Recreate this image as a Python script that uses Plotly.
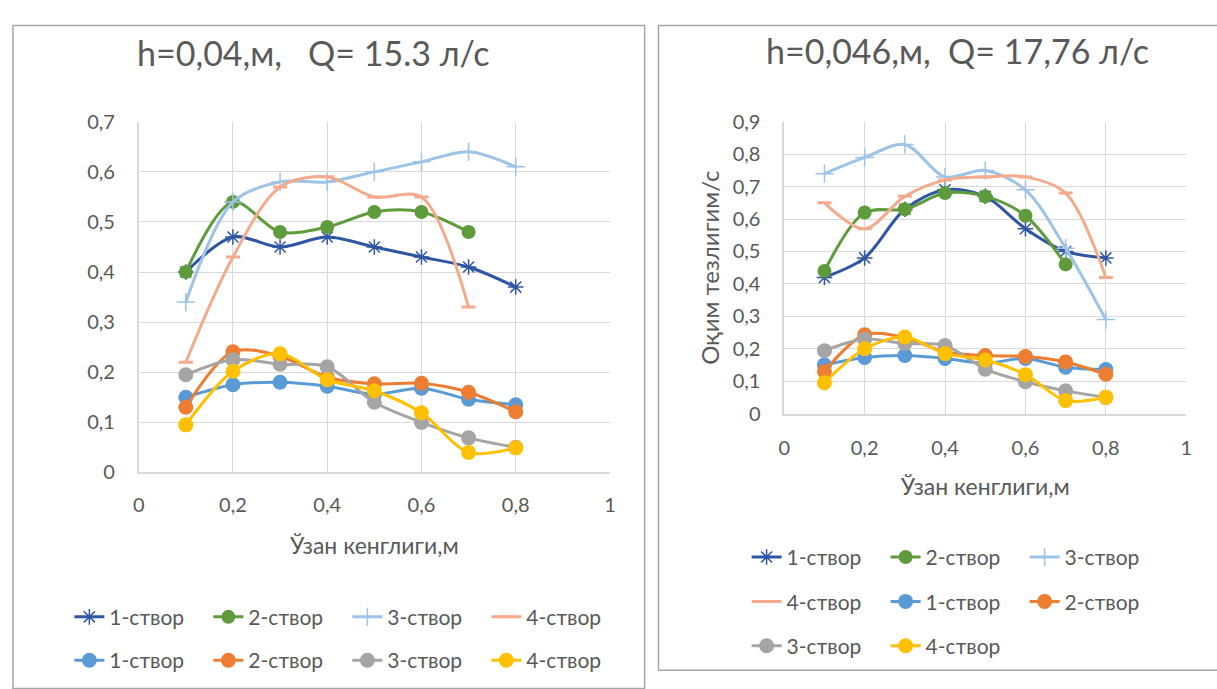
import plotly.graph_objects as go

# Channel width positions (m)
x_pos = [0.1, 0.2, 0.3, 0.4, 0.5, 0.6, 0.7, 0.8]

# Chart A: h=0,04 m, Q=15.3 l/s
a_s1 = [0.40, 0.47, 0.45, 0.47, 0.45, 0.43, 0.41, 0.37]
a_s2 = [0.40, 0.54, 0.48, 0.49, 0.52, 0.52, 0.48]
a_s3 = [0.34, 0.54, 0.58, 0.58, 0.60, 0.62, 0.64, 0.61]
a_s4 = [0.22, 0.43, 0.57, 0.59, 0.55, 0.55, 0.33]
a_b1 = [0.15, 0.175, 0.18, 0.172, 0.156, 0.168, 0.146, 0.135]
a_b2 = [0.13, 0.241, 0.232, 0.19, 0.177, 0.178, 0.16, 0.121]
a_b3 = [0.195, 0.225, 0.216, 0.211, 0.14, 0.10, 0.069, 0.05]
a_b4 = [0.095, 0.202, 0.237, 0.185, 0.163, 0.119, 0.04, 0.049]

# Chart B: h=0,046 m, Q=17,76 l/s
b_s1 = [0.42, 0.48, 0.63, 0.69, 0.67, 0.57, 0.50, 0.48]
b_s2 = [0.44, 0.62, 0.63, 0.68, 0.67, 0.61, 0.46]
b_s3 = [0.74, 0.79, 0.83, 0.73, 0.75, 0.69, 0.51, 0.29]
b_s4 = [0.65, 0.57, 0.67, 0.72, 0.73, 0.73, 0.68, 0.42]
b_b1 = [0.15, 0.173, 0.179, 0.17, 0.155, 0.17, 0.143, 0.136]
b_b2 = [0.13, 0.243, 0.234, 0.19, 0.179, 0.176, 0.159, 0.121]
b_b3 = [0.194, 0.23, 0.216, 0.21, 0.137, 0.098, 0.07, 0.05]
b_b4 = [0.095, 0.20, 0.236, 0.185, 0.165, 0.12, 0.04, 0.05]

names = ["1-створ", "2-створ", "3-створ", "4-створ"]

W, H = 1217, 689
FONT = "Lato"
TXT = "#595959"
GRID = "#D9D9D9"

C_S1 = "#2F56A3"
C_S2 = "#5E9B3A"
C_S3 = "#9DC3E6"
C_S4 = "#F4AA8C"
C_B1 = "#5B9BD5"
C_B2 = "#ED7D31"
C_B3 = "#A5A5A5"
C_B4 = "#FFC000"


def px_x(v):
    return v / W


def px_y(v):
    return 1 - v / H


fig = go.Figure()


def add_set(xa, ya, data, legends):
    s1, s2, s3, s4, b1, b2, b3, b4 = data
    specs = [
        (s1, C_S1, dict(symbol="asterisk-open", size=13, line=dict(width=1.5, color=C_S1))),
        (s2, C_S2, dict(symbol="circle", size=14, color=C_S2)),
        (s3, C_S3, dict(symbol="cross-thin-open", size=13, line=dict(width=1.5, color=C_S3))),
        (s4, C_S4, dict(symbol="line-ew-open", size=10, line=dict(width=3, color=C_S4))),
        (b1, C_B1, dict(symbol="circle", size=15, color=C_B1)),
        (b2, C_B2, dict(symbol="circle", size=15, color=C_B2)),
        (b3, C_B3, dict(symbol="circle", size=15, color=C_B3)),
        (b4, C_B4, dict(symbol="circle", size=15, color=C_B4)),
    ]
    for i, (vals, col, mk) in enumerate(specs):
        fig.add_trace(go.Scatter(
            x=x_pos[:len(vals)], y=vals,
            mode="lines+markers",
            line=dict(color=col, width=3, shape="spline", smoothing=0.9),
            marker=mk,
            name=names[i % 4],
            xaxis=xa, yaxis=ya,
            legend=legends[i],
            hoverinfo="skip",
        ))


add_set("x", "y", [a_s1, a_s2, a_s3, a_s4, a_b1, a_b2, a_b3, a_b4],
        ["legend"] * 4 + ["legend2"] * 4)
add_set("x2", "y2", [b_s1, b_s2, b_s3, b_s4, b_b1, b_b2, b_b3, b_b4],
        ["legend3"] * 3 + ["legend4"] * 3 + ["legend5"] * 2)

tickfont = dict(family=FONT, size=20, color=TXT)
axis_common = dict(
    showgrid=True, gridcolor=GRID, gridwidth=1,
    zeroline=False, showline=True, linecolor=GRID, linewidth=1.5,
    ticks="", tickfont=tickfont, mirror=False,
)
title_font = dict(family=FONT, size=23, color=TXT)

fig.update_layout(
    width=W, height=H,
    margin=dict(l=0, r=0, t=0, b=0),
    paper_bgcolor="white", plot_bgcolor="white",
    separators=", ",
    showlegend=True,
    font=dict(family=FONT, color=TXT),
    xaxis=dict(domain=[px_x(134), px_x(610)], range=[0, 1], dtick=0.2,
               anchor="y", ticklabelstandoff=14, **axis_common,
               title=dict(text="Ўзан кенглиги,м", font=title_font, standoff=23)),
    yaxis=dict(domain=[px_y(476), px_y(112.7)], range=[0, 0.7], dtick=0.1,
               anchor="x", ticklabelstandoff=18, **axis_common),
    xaxis2=dict(domain=[px_x(786), px_x(1192)], range=[0, 1], dtick=0.2,
                anchor="y2", ticklabelstandoff=16, **axis_common,
                title=dict(text="Ўзан кенглиги,м", font=title_font, standoff=21)),
    yaxis2=dict(domain=[px_y(415), px_y(112.7)], range=[0, 0.9], dtick=0.1,
                anchor="x2", ticklabelstandoff=18, **axis_common,
                title=dict(text="Оқим тезлигим/с", font=dict(family=FONT, size=24, color=TXT), standoff=6)),
)

leg_common = dict(orientation="h", xanchor="left", yanchor="middle",
                  font=dict(family=FONT, size=21, color=TXT),
                  bgcolor="rgba(0,0,0,0)", entrywidth=94, entrywidthmode="pixels",
                  itemclick=False, itemdoubleclick=False)
fig.update_layout(
    legend=dict(x=px_x(64), y=px_y(626), **leg_common),
    legend2=dict(x=px_x(64), y=px_y(671), **leg_common),
    legend3=dict(x=px_x(748), y=px_y(564), **leg_common),
    legend4=dict(x=px_x(748), y=px_y(610), **leg_common),
    legend5=dict(x=px_x(748), y=px_y(656), **leg_common),
)

# Chart titles
fig.add_annotation(text="h=0,04,м,   Q= 15.3 л/с", x=px_x(311), y=px_y(41),
                   xref="paper", yref="paper", showarrow=False,
                   xanchor="center", yanchor="middle",
                   font=dict(family=FONT, size=34, color=TXT))
fig.add_annotation(text="h=0,046,м,  Q= 17,76 л/с", x=px_x(961), y=px_y(39),
                   xref="paper", yref="paper", showarrow=False,
                   xanchor="center", yanchor="middle",
                   font=dict(family=FONT, size=34, color=TXT))

# Chart frames
BORDER = "#A6A6A6"
fig.add_shape(type="rect", xref="paper", yref="paper",
              x0=px_x(7), x1=px_x(645), y0=px_y(700), y1=px_y(13),
              line=dict(color=BORDER, width=1.5), layer="below")
fig.add_shape(type="rect", xref="paper", yref="paper",
              x0=px_x(659), x1=px_x(1230), y0=px_y(681), y1=px_y(13),
              line=dict(color=BORDER, width=1.5), layer="below")

fig.write_html("out.html")
